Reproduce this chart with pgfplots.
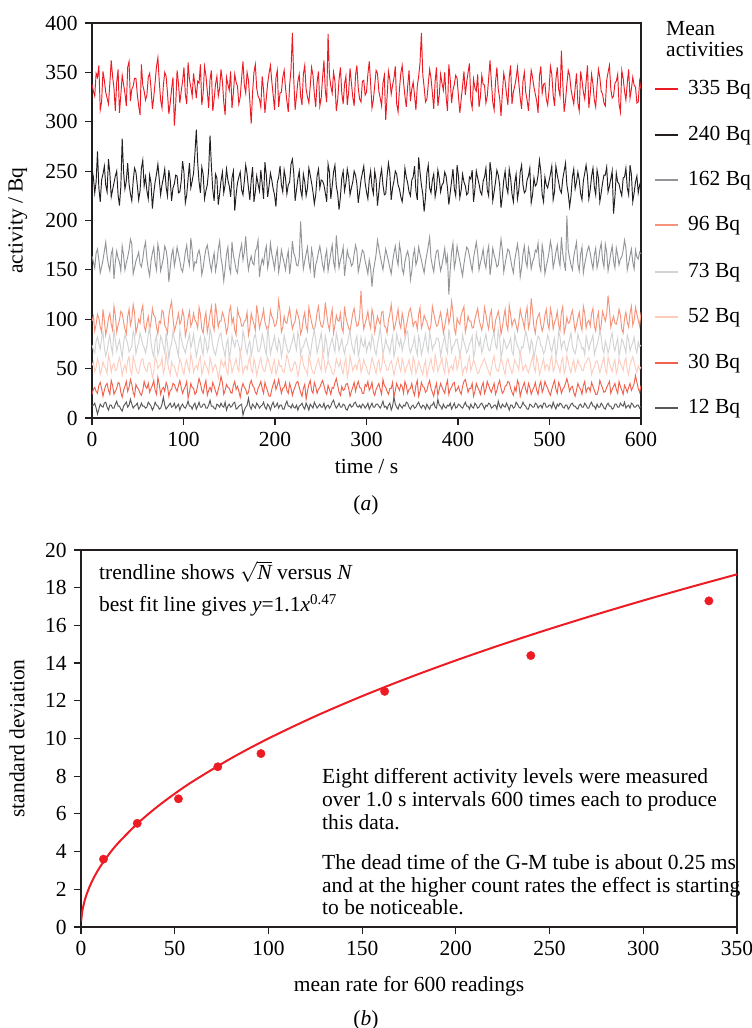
\documentclass[border=0pt]{standalone}
\usepackage{fontspec}
\setmainfont{Liberation Serif}
\usepackage{pgfplots}
\usepackage{pgfplotstable}
\pgfplotsset{compat=1.18}

\definecolor{axisc}{RGB}{35,31,32}
\definecolor{cA}{RGB}{237,28,36}   % 335 Bq
\definecolor{cB}{RGB}{35,31,32}    % 240 Bq
\definecolor{cC}{RGB}{147,149,152} % 162 Bq
\definecolor{cD}{RGB}{245,148,122} % 96 Bq
\definecolor{cE}{RGB}{209,211,212} % 73 Bq
\definecolor{cF}{RGB}{252,205,190} % 52 Bq
\definecolor{cG}{RGB}{240,98,78}   % 30 Bq
\definecolor{cH}{RGB}{88,89,91}    % 12 Bq

\newcommand{\bigfont}{\fontsize{21.5}{24}\selectfont}

% activity readings (Bq), one row per reading time
\pgfplotstableread{
t a b c d e f g h
0 338 252 164 98 74 53 24 12
1.5 331 244 158 103 69 57 29 13
3 326 228 152 88 66 47 31 15
4.5 349 239 167 95 78 51 27 10
6 345 270 171 105 82 60 25 4
7.5 357 233 160 101 75 55 33 9
9 312 219 147 92 70 44 36 14
10.5 320 241 153 87 81 49 30 12
12 351 247 160 110 87 57 22 11
13.5 342 255 169 99 71 52 28 15
15 330 236 178 84 63 50 33 16
16.5 324 229 164 91 68 45 35 11
18 318 262 155 101 77 64 28 8
19.5 339 248 149 106 84 58 24 13
21 362 224 166 95 72 46 38 13
22.5 346 231 171 89 65 53 33 10
24 334 238 141 113 90 55 24 10
25.5 311 245 158 104 79 48 27 14
27 340 250 169 87 68 49 30 17
28.5 353 226 162 94 74 56 36 12
30 309 215 158 99 79 61 35 12
31.5 327 234 149 108 70 54 26 9
33 347 283 174 106 61 43 21 7
34.5 338 249 165 97 76 50 28 12
36 329 232 150 90 84 54 32 14
37.5 316 240 157 85 80 47 37 16
39 355 258 163 103 75 58 27 11
40.5 361 237 170 110 67 62 31 13
42 321 227 181 94 69 48 39 19
43.5 333 220 176 100 73 44 34 14
45 336 240 146 115 88 63 26 10
46.5 344 253 152 107 82 57 22 12
48 344 249 159 86 65 51 34 13
49.5 328 236 163 92 71 46 31 15
51 316 221 168 100 76 45 29 9
52.5 307 230 156 96 86 53 25 11
54 358 253 153 108 81 59 23 15
55.5 337 261 161 114 74 60 28 12
57 331 235 172 93 71 52 37 12
58.5 322 244 178 88 66 49 32 10
60 327 230 161 97 73 47 30 11
61.5 345 222 151 103 85 55 35 16
63 349 246 144 89 92 56 26 14
64.5 334 238 159 97 77 50 30 12
66 313 212 167 111 67 41 33 8
67.5 325 228 173 104 62 46 38 11
69 340 239 157 102 78 62 28 16
70.5 356 247 150 92 83 58 24 13
72 365 257 176 85 64 50 41 12
73.5 341 242 168 98 70 53 34 9
75 322 226 149 96 83 54 24 10
76.5 314 236 155 109 79 61 29 14
78 337 243 162 107 72 45 31 21
79.5 350 252 174 94 66 51 27 13
81 346 234 170 91 86 66 36 9
82.5 329 225 160 86 75 57 32 11
84 308 251 138 104 60 49 22 13
85.5 319 241 152 112 71 44 28 15
87 333 220 165 118 75 57 29 11
88.5 345 233 171 101 88 53 35 12
90 296 237 154 88 80 52 34 15
91.5 318 246 162 93 76 47 30 10
93 352 245 173 99 69 42 27 12
94.5 339 228 166 106 63 50 33 14
96 319 229 159 95 89 60 38 8
97.5 331 240 151 99 81 56 31 12
99 341 260 148 109 74 48 25 14
100.5 355 249 157 103 70 44 29 11
102 328 218 168 83 66 55 32 10
103.5 318 226 175 90 73 59 37 13
105 360 242 161 101 79 51 20 17
106.5 343 258 155 108 85 47 26 12
108 335 233 182 93 71 65 35 12
109.5 326 240 170 97 77 58 31 9
111 349 248 151 106 85 46 30 13
112.5 337 268 158 99 73 51 24 15
114 324 292 157 97 62 53 26 9
115.5 341 259 166 91 69 49 33 12
117 339 239 170 112 77 58 40 16
118.5 358 228 163 105 82 62 35 11
120 317 254 145 90 70 44 28 11
121.5 329 247 152 86 64 50 25 14
123 356 222 163 100 82 57 33 14
124.5 347 230 171 107 78 53 38 10
126 331 236 175 87 67 50 23 10
127.5 314 251 166 95 72 45 28 13
129 343 286 156 105 91 61 31 18
130.5 352 255 149 113 84 56 27 12
132 311 231 160 94 73 47 36 12
133.5 323 220 167 89 67 52 32 10
135 338 247 149 116 64 54 27 9
136.5 346 243 157 104 71 49 23 14
138 326 216 171 92 78 40 29 13
139.5 334 227 179 98 84 47 34 11
141 353 240 162 98 86 59 42 15
142.5 341 249 154 107 75 55 36 12
144 320 228 139 103 69 52 24 11
145.5 307 236 151 96 62 58 28 16
147 345 252 166 86 75 48 34 8
148.5 338 241 173 92 80 44 31 12
150 332 235 153 108 60 63 30 14
151.5 351 224 147 113 68 57 26 11
153 314 243 178 96 83 46 25 12
154.5 329 250 165 101 77 51 33 15
156 348 210 158 89 72 55 37 16
157.5 340 226 150 84 79 60 29 9
159 336 238 147 110 79 51 32 10
160.5 318 244 161 104 73 47 27 12
162 325 249 169 101 66 68 21 13
163.5 344 231 176 93 71 58 30 14
165 361 226 160 93 88 45 35 3
166.5 337 240 168 98 82 50 31 8
168 329 256 184 99 71 53 29 11
169.5 350 247 163 107 65 49 24 13
171 342 233 150 84 74 57 26 20
172.5 321 221 158 91 78 62 34 12
174 298 241 164 106 63 49 38 9
175.5 330 254 157 100 70 46 33 14
177 350 219 155 95 81 60 31 12
178.5 358 229 169 89 85 54 26 10
180 334 245 172 114 76 43 24 15
181.5 326 237 180 104 67 50 30 13
183 323 230 143 91 68 56 33 10
184.5 315 251 154 97 74 61 37 12
186 346 237 161 102 85 52 30 13
187.5 332 222 156 110 79 48 25 16
189 309 259 168 97 70 47 36 11
190.5 324 246 174 92 64 55 31 9
192 339 224 152 88 93 61 27 14
193.5 349 235 160 95 80 56 22 12
195 357 248 177 109 65 50 22 8
196.5 341 241 166 103 72 45 29 13
198 327 232 159 100 77 55 34 16
199.5 312 226 151 93 83 59 38 11
201 344 214 164 94 73 44 29 12
202.5 352 238 171 101 68 49 33 15
204 315 244 148 119 80 58 39 10
205.5 329 255 157 108 75 52 32 13
207 330 236 170 87 62 53 25 13
208.5 345 229 163 92 70 47 30 9
210 352 251 157 103 84 46 31 9
211.5 334 243 150 97 77 54 36 14
213 321 227 162 96 71 64 28 17
214.5 310 236 169 104 66 59 25 12
216 337 239 146 111 68 51 35 12
217.5 353 257 158 100 74 47 30 10
219 390 262 179 90 78 49 23 14
220.5 343 248 167 95 85 55 28 11
222 312 220 163 98 75 57 32 10
223.5 326 231 155 109 69 52 36 13
225 341 242 154 105 87 42 37 8
226.5 348 250 162 99 80 49 31 12
228 326 231 199 85 64 59 26 13
229.5 317 224 172 90 71 63 22 15
231 348 247 151 101 72 54 30 11
232.5 357 239 159 107 77 50 34 9
234 333 225 166 93 81 48 19 15
235.5 325 233 173 88 75 44 27 12
237 319 253 158 112 69 62 34 8
238.5 336 246 150 104 63 57 38 14
240 355 238 171 97 74 50 28 12
241.5 347 229 163 91 82 46 25 10
243 328 217 142 89 90 45 36 16
244.5 315 226 155 96 79 51 32 13
246 340 245 160 107 66 56 25 10
247.5 351 252 168 113 72 60 29 12
249 316 233 174 99 79 53 31 14
250.5 324 241 165 93 86 48 35 11
252 345 240 155 92 71 67 38 11
253.5 362 236 149 99 67 59 33 15
255 331 228 163 117 83 47 27 9
256.5 320 219 170 105 76 52 24 12
258 389 257 149 95 61 58 33 13
259.5 347 249 158 89 70 54 29 10
261 336 222 167 102 76 51 24 12
262.5 329 235 175 110 81 45 31 16
264 350 249 158 86 73 44 30 18
265.5 341 256 151 94 67 50 36 13
267 311 235 185 104 86 60 40 10
268.5 322 227 168 99 79 55 33 12
270 343 211 152 98 68 52 26 15
271.5 355 224 160 106 74 58 23 11
273 329 243 165 91 80 49 32 11
274.5 318 250 173 87 71 45 28 14
276 338 230 144 113 65 55 29 13
277.5 346 238 157 102 73 61 34 9
279 317 252 170 96 75 41 35 8
280.5 330 244 163 91 82 48 30 12
282 354 226 161 88 89 63 22 14
283.5 339 233 154 97 76 56 27 11
285 325 239 156 106 70 48 31 12
286.5 316 250 166 111 65 52 36 15
288 347 246 175 100 78 54 27 16
289.5 357 237 169 93 83 49 33 12
291 334 218 148 94 63 57 37 11
292.5 323 229 155 103 69 60 31 13
294 320 241 163 129 82 46 30 10
295.5 341 248 170 104 75 51 25 14
297 342 255 168 90 72 59 25 13
298.5 327 238 159 96 80 54 34 10
300 330 229 153 101 67 51 32 12
301.5 348 222 146 108 73 46 37 15
303 361 241 160 97 77 44 28 9
304.5 339 250 152 91 70 53 31 12
306 314 234 133 110 84 61 36 15
307.5 322 227 149 104 79 56 26 11
309 337 250 157 87 69 50 23 11
310.5 352 241 166 95 64 45 29 14
312 349 215 180 103 74 55 32 14
313.5 331 229 172 98 82 59 35 12
315 324 244 164 95 92 47 29 10
316.5 316 252 157 107 78 51 24 13
318 339 236 150 108 65 65 39 17
319.5 347 226 161 93 71 57 33 11
321 302 227 171 92 80 53 31 12
322.5 325 245 165 86 74 48 27 9
324 351 258 159 99 71 49 24 13
325.5 343 248 152 105 66 55 30 15
327 328 221 146 115 76 58 30 8
328.5 337 233 158 101 83 52 36 12
330 344 240 167 89 62 43 21 21
331.5 356 250 174 94 69 50 28 14
333 318 247 162 102 85 56 35 11
334.5 310 236 155 110 78 61 31 9
336 333 232 176 96 73 52 28 14
337.5 349 224 168 91 80 47 34 12
339 357 219 151 106 68 60 32 10
340.5 340 231 146 99 75 55 25 13
342 326 253 158 84 79 46 37 12
343.5 315 244 165 93 86 51 33 16
345 336 238 169 100 88 54 25 15
346.5 352 229 162 108 72 59 29 11
348 321 225 140 111 66 50 30 9
349.5 333 241 149 103 71 45 35 12
351 340 244 164 93 75 62 27 13
352.5 327 255 171 97 82 57 23 10
354 312 230 155 98 70 45 33 11
355.5 336 221 160 90 64 50 38 14
357 346 264 173 105 83 57 22 16
358.5 360 249 166 112 77 53 27 12
360 390 236 160 91 64 48 36 10
361.5 348 227 153 96 70 44 32 13
363 335 209 147 104 78 53 31 12
364.5 320 224 158 100 85 58 26 9
366 323 248 166 97 72 42 28 14
367.5 338 256 174 92 67 49 34 11
369 353 233 183 88 87 55 38 9
370.5 344 228 162 95 79 60 30 13
372 329 241 154 113 69 51 26 13
373.5 313 247 148 106 74 47 22 16
375 341 224 161 99 75 64 30 11
376.5 355 232 169 93 81 57 35 10
378 316 251 170 94 81 47 23 19
379.5 327 243 158 101 76 52 29 13
381 348 229 149 107 63 56 35 12
382.5 339 236 155 98 71 61 31 9
384 332 238 163 86 77 50 28 14
385.5 350 249 172 93 84 45 25 11
387 325 245 157 102 71 61 33 10
388.5 311 233 164 109 66 55 38 13
390 358 216 125 96 90 45 24 12
391.5 343 228 150 102 80 51 29 15
393 319 240 168 118 67 53 31 9
394.5 332 252 177 107 73 48 35 12
396 338 232 152 90 74 58 36 15
397.5 347 225 160 85 79 62 27 10
399 344 256 174 101 80 49 29 11
400.5 326 245 166 97 72 54 32 14
402 309 223 159 95 65 66 27 13
403.5 323 231 151 104 70 57 24 11
405 336 247 144 109 84 44 32 10
406.5 351 239 156 113 77 50 37 13
408 327 235 165 87 72 52 39 16
409.5 340 226 173 94 66 47 33 12
411 350 228 171 103 69 57 26 12
412.5 359 244 164 98 75 62 30 9
414 322 242 156 98 78 48 30 14
415.5 314 251 149 91 83 53 35 11
417 343 219 162 92 61 59 22 10
418.5 334 232 170 100 68 55 27 15
420 331 250 178 106 86 50 35 13
421.5 348 243 167 111 79 45 31 10
423 315 237 150 100 73 46 28 11
424.5 325 229 157 94 80 52 24 14
426 347 226 163 89 66 54 32 15
427.5 338 240 171 96 71 58 36 12
429 337 244 158 112 79 60 25 9
430.5 319 253 152 105 85 55 29 13
432 326 231 167 96 75 51 37 12
433.5 344 225 174 90 69 47 33 15
435 362 259 145 104 68 43 29 14
436.5 340 248 156 109 76 50 26 10
438 320 220 172 91 82 58 31 11
439.5 312 229 165 86 87 63 35 13
441 340 239 160 99 74 52 24 13
442.5 355 251 153 103 70 48 28 9
444 333 246 155 108 89 47 34 17
445.5 324 236 167 100 81 53 38 12
447 306 213 181 85 62 61 30 10
448.5 329 225 170 92 67 56 25 14
450 349 241 148 102 80 49 27 12
451.5 341 250 156 110 76 44 32 11
453 328 234 164 95 70 56 33 15
454.5 317 228 171 89 73 60 37 12
456 345 252 169 114 76 54 36 8
457.5 357 243 161 105 81 50 30 13
459 318 227 153 93 67 45 26 13
460.5 330 219 147 98 64 51 23 10
462 336 238 160 100 85 59 31 11
463.5 344 247 168 94 78 55 27 16
465 355 222 176 88 73 53 38 14
466.5 339 231 166 97 70 48 34 11
468 324 249 143 110 64 68 22 10
469.5 313 256 152 103 72 57 28 12
471 341 236 166 98 71 48 32 16
472.5 350 228 174 91 79 52 36 13
474 330 230 159 105 88 54 29 12
475.5 322 241 153 112 82 49 25 9
477 311 245 172 91 74 46 35 9
478.5 334 253 165 97 67 51 31 14
480 352 218 151 121 79 57 24 13
481.5 345 226 158 108 75 62 28 11
483 335 243 162 92 60 51 31 11
484.5 328 235 170 86 69 47 36 15
486 321 237 168 99 77 62 28 14
487.5 309 246 177 103 83 56 24 10
489 346 261 155 106 81 44 33 12
490.5 356 250 149 95 73 49 37 13
492 329 226 175 88 72 55 26 10
493.5 338 219 166 93 65 60 30 15
495 339 244 146 104 68 49 37 15
496.5 323 236 154 110 76 54 33 11
498 317 233 160 96 84 53 30 11
499.5 332 240 168 90 79 48 26 13
501 356 247 179 111 71 58 23 13
502.5 348 255 171 104 67 63 29 10
504 327 221 152 90 75 47 34 16
505.5 316 229 159 97 81 51 38 12
507 343 255 168 100 62 60 29 9
508.5 355 246 175 108 70 55 25 14
510 333 239 161 94 88 52 36 12
511.5 326 231 154 89 82 46 32 15
513 372 228 183 107 70 57 25 14
514.5 340 242 166 113 76 61 29 11
516 310 250 157 86 78 45 31 10
517.5 321 258 149 92 71 50 35 13
519 338 236 205 102 67 63 40 13
520.5 352 227 170 96 74 57 34 9
522 347 214 162 97 80 50 27 11
523.5 333 225 155 104 86 46 31 14
525 325 244 150 109 73 54 32 15
526.5 318 252 163 99 68 59 26 12
528 334 232 171 88 65 47 22 12
529.5 349 239 178 94 72 52 28 10
531 319 249 156 101 85 59 35 9
532.5 311 241 149 107 79 54 31 13
534 351 227 166 95 76 53 29 14
535.5 342 221 173 89 70 48 24 11
537 330 240 147 113 71 48 33 11
538.5 323 248 156 106 64 55 37 15
540 340 256 163 91 83 56 26 13
541.5 357 245 170 97 77 60 30 10
543 314 222 174 99 69 61 31 10
544.5 328 231 167 93 75 56 27 14
546 348 245 158 106 79 44 36 16
547.5 338 253 151 111 84 49 32 12
549 322 234 165 93 64 52 28 12
550.5 315 226 172 88 70 57 24 9
552 337 251 152 101 74 58 24 14
553.5 353 243 159 107 80 53 29 11
555 345 219 170 87 89 46 38 11
556.5 331 228 177 94 82 51 34 15
558 328 238 160 108 70 57 30 13
559.5 319 246 153 103 66 62 26 10
561 316 246 176 98 78 49 27 9
562.5 342 254 168 105 73 45 31 13
564 350 229 149 124 66 62 34 15
565.5 357 235 157 111 71 56 37 12
567 333 242 167 92 81 51 25 12
568.5 324 250 174 98 86 47 29 9
570 326 207 159 103 73 55 32 10
571.5 339 224 152 96 68 59 35 14
573 341 248 172 95 75 45 29 14
574.5 348 239 165 101 81 50 25 11
576 318 237 155 110 63 60 37 11
577.5 310 230 161 104 70 55 32 15
579 352 225 163 90 80 52 28 13
580.5 344 243 170 86 77 48 24 12
582 331 244 180 101 72 57 33 16
583.5 322 253 172 107 66 61 30 10
585 339 233 150 97 84 48 26 12
586.5 353 226 157 92 79 44 31 13
588 324 256 164 106 68 54 35 10
589.5 333 247 171 113 73 58 28 15
591 345 219 158 94 76 62 31 14
592.5 337 228 151 99 82 57 35 11
594 335 239 170 112 71 50 43 11
595.5 319 245 163 105 66 46 36 13
597 320 228 161 99 77 53 30 13
598.5 341 236 168 93 72 49 26 10
600 333 240 166 107 74 52 33 12
}\activity

\pgfplotsset{
  every axis/.append style={
    font=\bigfont,
    scale only axis,
    anchor=south west,
    tick align=outside,
    tick pos=left,
    major tick length=7pt,
    axis line style={line width=1.2pt, draw=axisc},
    every tick/.style={line width=1.2pt, draw=axisc},
    ticklabel style={font=\bigfont},
    /pgf/number format/assume math mode=true,
  },
}

\begin{document}
\bigfont
\begin{tikzpicture}[x=1pt,y=1pt]
\path[use as bounding box] (0,0) rectangle (752,1028);

% (a) activity traces
\begin{axis}[
  at={(92pt,610pt)},
  width=549pt, height=395pt,
  xmin=0, xmax=600, ymin=0, ymax=400,
  xtick={0,100,...,600}, ytick={0,50,...,400},
  xlabel={time / s}, ylabel={activity / Bq},
  xlabel style={at={(axis description cs:0.5,-0.124)}, anchor=center},
  ylabel style={at={(axis description cs:-0.135,0.5)}, anchor=center},
  every axis plot/.append style={line width=0.95pt},
]
\addplot[draw=cA] table[x=t, y=a] {\activity};
\addplot[draw=cB] table[x=t, y=b] {\activity};
\addplot[draw=cC] table[x=t, y=c] {\activity};
\addplot[draw=cD] table[x=t, y=d] {\activity};
\addplot[draw=cE] table[x=t, y=e] {\activity};
\addplot[draw=cF] table[x=t, y=f] {\activity};
\addplot[draw=cG] table[x=t, y=g] {\activity};
\addplot[draw=cH] table[x=t, y=h] {\activity};
\end{axis}

% legend of panel (a)
\node[anchor=base west, inner sep=0pt] at (666,992) {Mean};
\node[anchor=base west, inner sep=0pt] at (666,971) {activities};
\foreach \col/\lab/\yb in {cA/335/933, cB/240/887, cC/162/842, cD/96/797,
                          cE/73/750, cF/52/705, cG/30/659, cH/12/614} {
  \draw[\col, line width=1.4pt] (655,\yb+6) -- (678,\yb+6);
  \node[anchor=base west, inner sep=0pt] at (688,\yb) {\lab\ Bq};
}
\node at (366,523) {(\textit{a})};

% (b) standard deviation against mean rate
\begin{axis}[
  at={(81pt,101pt)},
  width=656pt, height=377pt,
  xmin=0, xmax=350, ymin=0, ymax=20,
  xtick={0,50,...,350}, ytick={0,2,...,20},
  xlabel={mean rate for 600 readings}, ylabel={standard deviation},
  xlabel style={at={(axis description cs:0.5,-0.1565)}, anchor=center},
  ylabel style={at={(axis description cs:-0.0976,0.5)}, anchor=center},
]
% trendline sqrt(N)
\addplot[cA, line width=2pt, smooth] coordinates {
  (0.1,0.316) (0.5,0.707) (1,1) (2,1.414) (3,1.732) (5,2.236) (7.5,2.739)
  (10,3.162) (15,3.873) (20,4.472) (30,5.477) (40,6.325) (50,7.071)
  (60,7.746) (80,8.944) (100,10) (125,11.180) (150,12.247) (175,13.229)
  (200,14.142) (225,15) (250,15.811) (275,16.583) (300,17.321)
  (325,18.028) (350,18.708)};
\addplot[only marks, mark=*, mark size=4.2pt, cA] coordinates {
  (12,3.6) (30,5.5) (52,6.8) (73,8.5) (96,9.2) (162,12.5) (240,14.4) (335,17.3)};
\end{axis}

\node[anchor=base west, inner sep=0pt] at (99,448) {trendline shows $\sqrt{\textit{N}}$ versus \textit{N}};
\node[anchor=base west, inner sep=0pt] at (99,416) {best fit line gives \textit{y}=1.1\textit{x}\textsuperscript{0.47}};

\node[anchor=base west, inner sep=0pt] at (322,244) {Eight different activity levels were measured};
\node[anchor=base west, inner sep=0pt] at (322,221) {over 1.0 s intervals 600 times each to produce};
\node[anchor=base west, inner sep=0pt] at (322,198) {this data.};
\node[anchor=base west, inner sep=0pt] at (322,158) {The dead time of the G-M tube is about 0.25 ms};
\node[anchor=base west, inner sep=0pt] at (322,135) {and at the higher count rates the effect is starting};
\node[anchor=base west, inner sep=0pt] at (322,113) {to be noticeable.};

\node at (366,8) {(\textit{b})};
\end{tikzpicture}
\end{document}
